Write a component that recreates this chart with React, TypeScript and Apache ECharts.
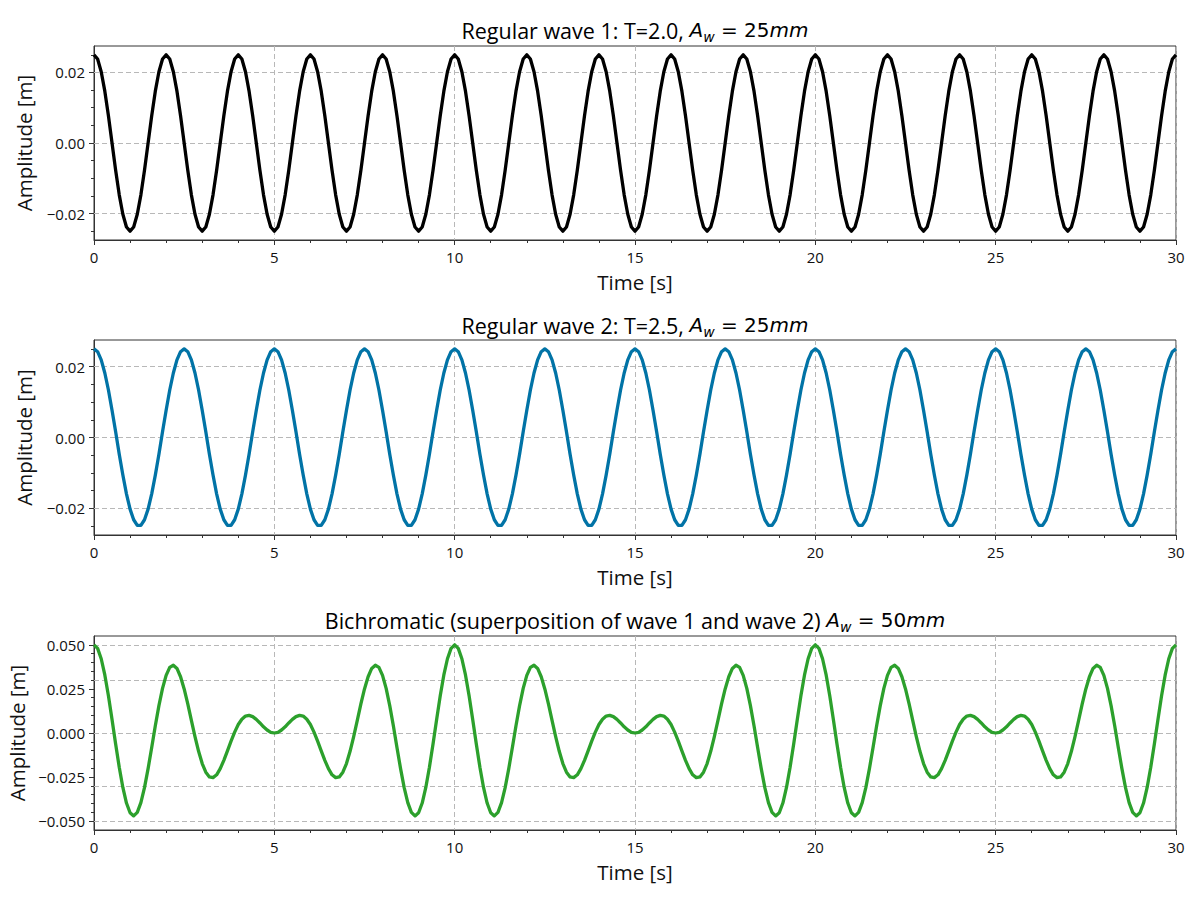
import React, { useEffect, useRef } from "react";
import * as echarts from "echarts";

const SAMPLE_STEP = 0.1;

const wave1: number[] = [
  0.025, 0.0238, 0.0202, 0.0147, 0.0077, 0, -0.0077, -0.0147, -0.0202, -0.0238, -0.025, -0.0238, -0.0202, -0.0147, -0.0077, 0, 0.0077, 0.0147, 0.0202, 0.0238,
  0.025, 0.0238, 0.0202, 0.0147, 0.0077, 0, -0.0077, -0.0147, -0.0202, -0.0238, -0.025, -0.0238, -0.0202, -0.0147, -0.0077, 0, 0.0077, 0.0147, 0.0202, 0.0238,
  0.025, 0.0238, 0.0202, 0.0147, 0.0077, 0, -0.0077, -0.0147, -0.0202, -0.0238, -0.025, -0.0238, -0.0202, -0.0147, -0.0077, 0, 0.0077, 0.0147, 0.0202, 0.0238,
  0.025, 0.0238, 0.0202, 0.0147, 0.0077, 0, -0.0077, -0.0147, -0.0202, -0.0238, -0.025, -0.0238, -0.0202, -0.0147, -0.0077, 0, 0.0077, 0.0147, 0.0202, 0.0238,
  0.025, 0.0238, 0.0202, 0.0147, 0.0077, 0, -0.0077, -0.0147, -0.0202, -0.0238, -0.025, -0.0238, -0.0202, -0.0147, -0.0077, 0, 0.0077, 0.0147, 0.0202, 0.0238,
  0.025, 0.0238, 0.0202, 0.0147, 0.0077, 0, -0.0077, -0.0147, -0.0202, -0.0238, -0.025, -0.0238, -0.0202, -0.0147, -0.0077, 0, 0.0077, 0.0147, 0.0202, 0.0238,
  0.025, 0.0238, 0.0202, 0.0147, 0.0077, 0, -0.0077, -0.0147, -0.0202, -0.0238, -0.025, -0.0238, -0.0202, -0.0147, -0.0077, 0, 0.0077, 0.0147, 0.0202, 0.0238,
  0.025, 0.0238, 0.0202, 0.0147, 0.0077, 0, -0.0077, -0.0147, -0.0202, -0.0238, -0.025, -0.0238, -0.0202, -0.0147, -0.0077, 0, 0.0077, 0.0147, 0.0202, 0.0238,
  0.025, 0.0238, 0.0202, 0.0147, 0.0077, 0, -0.0077, -0.0147, -0.0202, -0.0238, -0.025, -0.0238, -0.0202, -0.0147, -0.0077, 0, 0.0077, 0.0147, 0.0202, 0.0238,
  0.025, 0.0238, 0.0202, 0.0147, 0.0077, 0, -0.0077, -0.0147, -0.0202, -0.0238, -0.025, -0.0238, -0.0202, -0.0147, -0.0077, 0, 0.0077, 0.0147, 0.0202, 0.0238,
  0.025, 0.0238, 0.0202, 0.0147, 0.0077, 0, -0.0077, -0.0147, -0.0202, -0.0238, -0.025, -0.0238, -0.0202, -0.0147, -0.0077, 0, 0.0077, 0.0147, 0.0202, 0.0238,
  0.025, 0.0238, 0.0202, 0.0147, 0.0077, 0, -0.0077, -0.0147, -0.0202, -0.0238, -0.025, -0.0238, -0.0202, -0.0147, -0.0077, 0, 0.0077, 0.0147, 0.0202, 0.0238,
  0.025, 0.0238, 0.0202, 0.0147, 0.0077, 0, -0.0077, -0.0147, -0.0202, -0.0238, -0.025, -0.0238, -0.0202, -0.0147, -0.0077, 0, 0.0077, 0.0147, 0.0202, 0.0238,
  0.025, 0.0238, 0.0202, 0.0147, 0.0077, 0, -0.0077, -0.0147, -0.0202, -0.0238, -0.025, -0.0238, -0.0202, -0.0147, -0.0077, 0, 0.0077, 0.0147, 0.0202, 0.0238,
  0.025, 0.0238, 0.0202, 0.0147, 0.0077, 0, -0.0077, -0.0147, -0.0202, -0.0238, -0.025, -0.0238, -0.0202, -0.0147, -0.0077, 0, 0.0077, 0.0147, 0.0202, 0.0238,
  0.025,
];

const wave2: number[] = [
  0.025, 0.0242, 0.0219, 0.0182, 0.0134, 0.0077, 0.0016, -0.0047, -0.0106, -0.0159, -0.0202, -0.0232, -0.0248, -0.0248, -0.0232, -0.0202, -0.0159, -0.0106, -0.0047, 0.0016, 0.0077, 0.0134, 0.0182, 0.0219, 0.0242,
  0.025, 0.0242, 0.0219, 0.0182, 0.0134, 0.0077, 0.0016, -0.0047, -0.0106, -0.0159, -0.0202, -0.0232, -0.0248, -0.0248, -0.0232, -0.0202, -0.0159, -0.0106, -0.0047, 0.0016, 0.0077, 0.0134, 0.0182, 0.0219, 0.0242,
  0.025, 0.0242, 0.0219, 0.0182, 0.0134, 0.0077, 0.0016, -0.0047, -0.0106, -0.0159, -0.0202, -0.0232, -0.0248, -0.0248, -0.0232, -0.0202, -0.0159, -0.0106, -0.0047, 0.0016, 0.0077, 0.0134, 0.0182, 0.0219, 0.0242,
  0.025, 0.0242, 0.0219, 0.0182, 0.0134, 0.0077, 0.0016, -0.0047, -0.0106, -0.0159, -0.0202, -0.0232, -0.0248, -0.0248, -0.0232, -0.0202, -0.0159, -0.0106, -0.0047, 0.0016, 0.0077, 0.0134, 0.0182, 0.0219, 0.0242,
  0.025, 0.0242, 0.0219, 0.0182, 0.0134, 0.0077, 0.0016, -0.0047, -0.0106, -0.0159, -0.0202, -0.0232, -0.0248, -0.0248, -0.0232, -0.0202, -0.0159, -0.0106, -0.0047, 0.0016, 0.0077, 0.0134, 0.0182, 0.0219, 0.0242,
  0.025, 0.0242, 0.0219, 0.0182, 0.0134, 0.0077, 0.0016, -0.0047, -0.0106, -0.0159, -0.0202, -0.0232, -0.0248, -0.0248, -0.0232, -0.0202, -0.0159, -0.0106, -0.0047, 0.0016, 0.0077, 0.0134, 0.0182, 0.0219, 0.0242,
  0.025, 0.0242, 0.0219, 0.0182, 0.0134, 0.0077, 0.0016, -0.0047, -0.0106, -0.0159, -0.0202, -0.0232, -0.0248, -0.0248, -0.0232, -0.0202, -0.0159, -0.0106, -0.0047, 0.0016, 0.0077, 0.0134, 0.0182, 0.0219, 0.0242,
  0.025, 0.0242, 0.0219, 0.0182, 0.0134, 0.0077, 0.0016, -0.0047, -0.0106, -0.0159, -0.0202, -0.0232, -0.0248, -0.0248, -0.0232, -0.0202, -0.0159, -0.0106, -0.0047, 0.0016, 0.0077, 0.0134, 0.0182, 0.0219, 0.0242,
  0.025, 0.0242, 0.0219, 0.0182, 0.0134, 0.0077, 0.0016, -0.0047, -0.0106, -0.0159, -0.0202, -0.0232, -0.0248, -0.0248, -0.0232, -0.0202, -0.0159, -0.0106, -0.0047, 0.0016, 0.0077, 0.0134, 0.0182, 0.0219, 0.0242,
  0.025, 0.0242, 0.0219, 0.0182, 0.0134, 0.0077, 0.0016, -0.0047, -0.0106, -0.0159, -0.0202, -0.0232, -0.0248, -0.0248, -0.0232, -0.0202, -0.0159, -0.0106, -0.0047, 0.0016, 0.0077, 0.0134, 0.0182, 0.0219, 0.0242,
  0.025, 0.0242, 0.0219, 0.0182, 0.0134, 0.0077, 0.0016, -0.0047, -0.0106, -0.0159, -0.0202, -0.0232, -0.0248, -0.0248, -0.0232, -0.0202, -0.0159, -0.0106, -0.0047, 0.0016, 0.0077, 0.0134, 0.0182, 0.0219, 0.0242,
  0.025, 0.0242, 0.0219, 0.0182, 0.0134, 0.0077, 0.0016, -0.0047, -0.0106, -0.0159, -0.0202, -0.0232, -0.0248, -0.0248, -0.0232, -0.0202, -0.0159, -0.0106, -0.0047, 0.0016, 0.0077, 0.0134, 0.0182, 0.0219, 0.0242,
  0.025,
];

const bichromatic: number[] = [
  0.05, 0.048, 0.0421, 0.0329, 0.0211, 0.0077, -0.0062, -0.0194, -0.0309, -0.0397, -0.0452, -0.047, -0.045, -0.0395, -0.031, -0.0202, -0.0082, 0.0041, 0.0155, 0.0253, 0.0327, 0.0372, 0.0384, 0.0366, 0.0319,
  0.025, 0.0165, 0.0072, -0.002, -0.0104, -0.0173, -0.0222, -0.0249, -0.0253, -0.0237, -0.0202, -0.0155, -0.0101, -0.0046, 0.0005, 0.0048, 0.0078, 0.0096, 0.01, 0.0093, 0.0077, 0.0057, 0.0035, 0.0017, 0.0004,
  0, 0.0004, 0.0017, 0.0035, 0.0057, 0.0077, 0.0093, 0.01, 0.0096, 0.0078, 0.0048, 0.0005, -0.0046, -0.0101, -0.0155, -0.0202, -0.0237, -0.0253, -0.0249, -0.0222, -0.0173, -0.0104, -0.002, 0.0072, 0.0165,
  0.025, 0.0319, 0.0366, 0.0384, 0.0372, 0.0327, 0.0253, 0.0155, 0.0041, -0.0082, -0.0202, -0.031, -0.0395, -0.045, -0.047, -0.0452, -0.0397, -0.0309, -0.0194, -0.0062, 0.0077, 0.0211, 0.0329, 0.0421, 0.048,
  0.05, 0.048, 0.0421, 0.0329, 0.0211, 0.0077, -0.0062, -0.0194, -0.0309, -0.0397, -0.0452, -0.047, -0.045, -0.0395, -0.031, -0.0202, -0.0082, 0.0041, 0.0155, 0.0253, 0.0327, 0.0372, 0.0384, 0.0366, 0.0319,
  0.025, 0.0165, 0.0072, -0.002, -0.0104, -0.0173, -0.0222, -0.0249, -0.0253, -0.0237, -0.0202, -0.0155, -0.0101, -0.0046, 0.0005, 0.0048, 0.0078, 0.0096, 0.01, 0.0093, 0.0077, 0.0057, 0.0035, 0.0017, 0.0004,
  0, 0.0004, 0.0017, 0.0035, 0.0057, 0.0077, 0.0093, 0.01, 0.0096, 0.0078, 0.0048, 0.0005, -0.0046, -0.0101, -0.0155, -0.0202, -0.0237, -0.0253, -0.0249, -0.0222, -0.0173, -0.0104, -0.002, 0.0072, 0.0165,
  0.025, 0.0319, 0.0366, 0.0384, 0.0372, 0.0327, 0.0253, 0.0155, 0.0041, -0.0082, -0.0202, -0.031, -0.0395, -0.045, -0.047, -0.0452, -0.0397, -0.0309, -0.0194, -0.0062, 0.0077, 0.0211, 0.0329, 0.0421, 0.048,
  0.05, 0.048, 0.0421, 0.0329, 0.0211, 0.0077, -0.0062, -0.0194, -0.0309, -0.0397, -0.0452, -0.047, -0.045, -0.0395, -0.031, -0.0202, -0.0082, 0.0041, 0.0155, 0.0253, 0.0327, 0.0372, 0.0384, 0.0366, 0.0319,
  0.025, 0.0165, 0.0072, -0.002, -0.0104, -0.0173, -0.0222, -0.0249, -0.0253, -0.0237, -0.0202, -0.0155, -0.0101, -0.0046, 0.0005, 0.0048, 0.0078, 0.0096, 0.01, 0.0093, 0.0077, 0.0057, 0.0035, 0.0017, 0.0004,
  0, 0.0004, 0.0017, 0.0035, 0.0057, 0.0077, 0.0093, 0.01, 0.0096, 0.0078, 0.0048, 0.0005, -0.0046, -0.0101, -0.0155, -0.0202, -0.0237, -0.0253, -0.0249, -0.0222, -0.0173, -0.0104, -0.002, 0.0072, 0.0165,
  0.025, 0.0319, 0.0366, 0.0384, 0.0372, 0.0327, 0.0253, 0.0155, 0.0041, -0.0082, -0.0202, -0.031, -0.0395, -0.045, -0.047, -0.0452, -0.0397, -0.0309, -0.0194, -0.0062, 0.0077, 0.0211, 0.0329, 0.0421, 0.048,
  0.05,
];

const titlePrefixes = [
  "Regular wave 1: T=2.0, ",
  "Regular wave 2: T=2.5, ",
  "Bichromatic (superposition of wave 1 and wave 2) ",
];
const titleAmplitudes = ["25", "25", "50"];
const seriesNames = ["Regular wave 1", "Regular wave 2", "Bichromatic"];
const xLabel = "Time [s]";
const yLabel = "Amplitude [m]";

const xMin = 0;
const xMax = 30;
const xStep = 5;

const yLimits12 = [-0.0275, 0.0275];
const yLimits3 = [-0.055, 0.055];
const yMajor12 = [-0.02, 0, 0.02];
const yMinor12 = [-0.025, -0.015, -0.01, -0.005, 0.005, 0.01, 0.015, 0.025];
const yMajor3 = [-0.05, -0.025, 0, 0.025, 0.05];
const yMinor3 = [
  -0.045, -0.04, -0.035, -0.03, -0.02, -0.015, -0.01, -0.005,
  0.005, 0.01, 0.015, 0.02, 0.03, 0.035, 0.04, 0.045,
];

// ---- styles ----
const FONT = "'Open Sans', 'Noto Sans', sans-serif";
const MATH_FONT = "'DejaVu Sans', sans-serif";
const colors = ["#000000", "#0173A6", "#2CA02C"];
const frameColor = "#333333";
const gridColor = "#b8b8b8";
const textColor = "#111111";

const gridsLayout = [
  { top: 46, height: 194 },
  { top: 340, height: 195 },
  { top: 636, height: 194 },
];
const titleY = [30, 325, 620];

function fmt(decimals: number) {
  return (v: number) => (v < 0 ? "\u2212" : "") + Math.abs(v).toFixed(decimals);
}

export default function App() {
  const ref = useRef<HTMLDivElement>(null);

  useEffect(() => {
    document.body.style.margin = "0";
    if (!ref.current) return;
    const chart = echarts.init(ref.current, undefined, { renderer: "svg" });

    const waves = [wave1, wave2, bichromatic];
    const times = wave1.map((_, i) => +(i * SAMPLE_STEP).toFixed(1));

    const grids = gridsLayout.map((g) => ({
      left: 94,
      width: 1082,
      top: g.top,
      height: g.height,
      show: true,
      borderColor: frameColor,
      borderWidth: 1,
      backgroundColor: "transparent",
      containLabel: false,
      outerBoundsMode: "none",
    }));

    const xAxes = [0, 1, 2].map((i) => ({
      type: "value",
      gridIndex: i,
      min: xMin,
      max: xMax,
      interval: xStep,
      axisLine: { show: true, onZero: false, lineStyle: { color: frameColor, width: 1 } },
      axisTick: { show: true, length: 5, inside: false, lineStyle: { color: frameColor } },
      minorTick: { show: true, splitNumber: 5, length: 3, lineStyle: { color: frameColor } },
      axisLabel: { fontSize: 15, color: textColor, margin: 9, fontFamily: FONT },
      splitLine: { show: true, lineStyle: { color: gridColor, type: [5, 3], width: 1 } },
      minorSplitLine: { show: false },
      name: xLabel,
      nameLocation: "middle",
      nameGap: 31,
      nameTextStyle: { fontSize: 20.5, color: textColor, fontFamily: FONT },
    }));

    const yAxes: any[] = [];
    [0, 1, 2].forEach((i) => {
      const lim = i < 2 ? yLimits12 : yLimits3;
      const major = i < 2 ? yMajor12 : yMajor3;
      const minor = i < 2 ? yMinor12 : yMinor3;
      const dec = i < 2 ? 2 : 3;
      yAxes.push({
        type: "value",
        gridIndex: i,
        position: "left",
        min: lim[0],
        max: lim[1],
        axisLine: { show: true, onZero: false, lineStyle: { color: frameColor, width: 1 } },
        axisTick: { show: true, length: 5, inside: false, customValues: major, lineStyle: { color: frameColor } },
        axisLabel: {
          customValues: major,
          formatter: fmt(dec),
          fontSize: 15,
          color: textColor,
          margin: 9,
          fontFamily: FONT,
        },
        splitLine: { show: false },
        name: yLabel,
        nameLocation: "middle",
        nameGap: i < 2 ? 60 : 66,
        nameTextStyle: { fontSize: 20.5, color: textColor, fontFamily: FONT },
      });
      yAxes.push({
        type: "value",
        gridIndex: i,
        position: "left",
        min: lim[0],
        max: lim[1],
        axisLine: { show: false, onZero: false },
        axisTick: { show: true, length: 3, inside: false, customValues: minor, lineStyle: { color: frameColor } },
        axisLabel: { show: false },
        splitLine: { show: false },
      });
    });

    const series = waves.map((w, i) => {
      const major = i < 2 ? yMajor12 : yMajor3;
      return {
        name: seriesNames[i],
        type: "line",
        xAxisIndex: i,
        yAxisIndex: i * 2,
        data: w.map((v, k) => [times[k], v]),
        showSymbol: false,
        symbol: "none",
        smooth: false,
        z: 3,
        lineStyle: { color: colors[i], width: 3.3, join: "round" },
        itemStyle: { color: colors[i] },
        markLine: {
          silent: true,
          symbol: ["none", "none"],
          z: 1,
          label: { show: false },
          emphasis: { disabled: true },
          lineStyle: { color: gridColor, type: [5, 3], width: 1 },
          data: major.map((v) => ({ yAxis: v })),
        },
      };
    });

    const rich = {
      n: { fontFamily: FONT, fontSize: 21.5, color: textColor, lineHeight: 28 },
      m: { fontFamily: MATH_FONT, fontSize: 20, color: textColor, lineHeight: 28 },
      i: { fontFamily: MATH_FONT, fontStyle: "italic", fontSize: 20, color: textColor, lineHeight: 28 },
      s: { fontFamily: MATH_FONT, fontStyle: "italic", fontSize: 14, color: textColor, lineHeight: 14, verticalAlign: "bottom" },
    };

    const graphic = titlePrefixes.map((p, i) => ({
      type: "text",
      x: 635,
      y: titleY[i],
      style: {
        text: `{n|${p}}{i|A}{s|w}{m| = ${titleAmplitudes[i]}}{i|mm}`,
        rich,
        align: "center",
        verticalAlign: "middle",
      },
    }));

    chart.setOption({
      animation: false,
      backgroundColor: "#ffffff",
      grid: grids,
      xAxis: xAxes,
      yAxis: yAxes,
      series,
      graphic,
    } as any);

    return () => chart.dispose();
  }, []);

  return (
    <div
      ref={ref}
      style={{ position: "fixed", left: 0, top: 0, width: 1200, height: 900 }}
    />
  );
}
